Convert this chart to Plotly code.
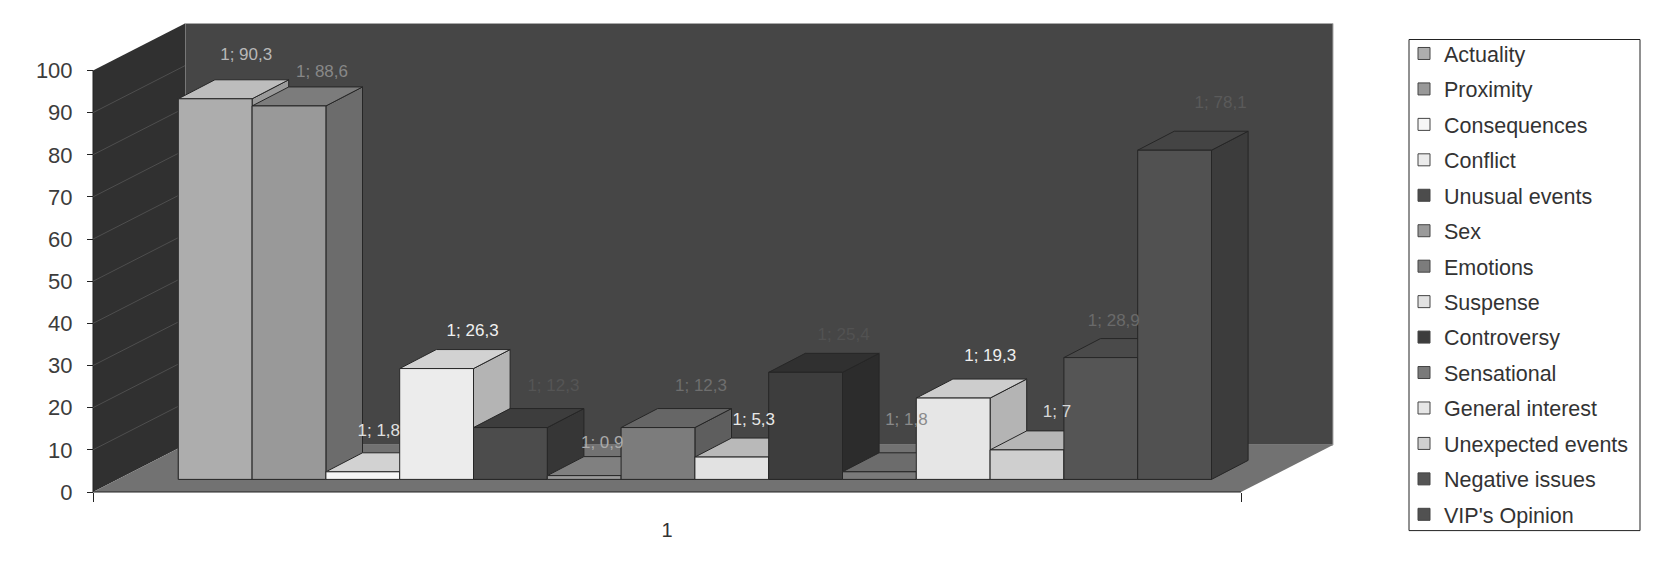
import plotly.graph_objects as go

# chart values
series_names = ["Actuality", "Proximity", "Consequences", "Conflict", "Unusual events", "Sex", "Emotions",
                "Suspense", "Controversy", "Sensational", "General interest", "Unexpected events",
                "Negative issues", "VIP's Opinion"]
series_values = [90.3, 88.6, 1.8, 26.3, 12.3, 0.9, 12.3, 5.3, 25.4, 1.8, 19.3, 7, 28.9, 78.1]
category_labels = ["1"]
y_ticks = [0, 10, 20, 30, 40, 50, 60, 70, 80, 90, 100]

# greys per series: front, top, side, label
front_colors = ["#adadad", "#999999", "#f6f6f6", "#ececec", "#4c4c4c", "#9a9a9a", "#7c7c7c",
                "#e2e2e2", "#3d3d3d", "#7a7a7a", "#e6e6e6", "#cfcfcf", "#555555", "#515151"]
top_colors = ["#bdbdbd", "#7c7c7c", "#d2d2d2", "#d2d2d2", "#3d3d3d", "#808080", "#666666",
              "#b9b9b9", "#303030", "#6c6c6c", "#cdcdcd", "#b6b6b6", "#4a4a4a", "#444444"]
side_colors = ["#9a9a9a", "#6c6c6c", "#b4b4b4", "#b4b4b4", "#363636", "#6e6e6e", "#5e5e5e",
               "#a8a8a8", "#2c2c2c", "#5e5e5e", "#b4b4b4", "#a4a4a4", "#3e3e3e", "#3c3c3c"]
label_colors = ["#b8b8b8", "#888888", "#e0e0e0", "#f0f0f0", "#555555", "#aaaaaa", "#6e6e6e",
                "#e8e8e8", "#525252", "#8a8a8a", "#f0f0f0", "#d8d8d8", "#6a6a6a", "#5a5a5a"]
# label offset from the bar's front top centre, in pixels
label_dx = [31, 33, 16, 36, 43, 18, 43, 22, 38, 27, 37, 30, 13, 46]
label_dy = [43, 33, 40, 37, 41, 32, 41, 36, 37, 51, 41, 37, 36, 46]

WIDTH, HEIGHT = 1674, 565
AXIS_LEFT, AXIS_RIGHT = 93, 1241   # pixels of the category axis
AXIS_ZERO, AXIS_TOP = 492, 70.5    # pixels of y=0 and y=100

px_x = AXIS_RIGHT - AXIS_LEFT
px_y = (AXIS_ZERO - AXIS_TOP) / 100

# 3d look, pixel sizes turned into axis units
wall_dx, wall_dy = 92 / px_x, 47 / px_y
bar_dx, bar_dy = 36.6 / px_x, 19 / px_y
lift_x, lift_y = 24.7 / px_x, 12.6 / px_y
bar_w = 73.8 / px_x
first_bar = (178.3 - AXIS_LEFT) / px_x

edge = "#262626"
fig = go.Figure()


def face(xs, ys, color):
    fig.add_trace(go.Scatter(x=xs + xs[:1], y=ys + ys[:1], mode="lines", fill="toself", fillcolor=color,
                             line={"color": edge, "width": 1}, showlegend=False, hoverinfo="skip"))


# real bars carry the legend, the polygons on top give the depth
for i, (name, value) in enumerate(zip(series_names, series_values)):
    fig.add_trace(go.Bar(x=[first_bar + (i + 0.5) * bar_w], y=[value], base=[lift_y], width=[bar_w], name=name,
                         legendgroup=name, marker={"color": front_colors[i], "line": {"color": "#444444", "width": 1}},
                         hoverinfo="skip"))

for i, value in enumerate(series_values):
    x0 = first_bar + i * bar_w
    x1 = x0 + bar_w
    y0 = lift_y
    y1 = lift_y + value
    face([x1, x1 + bar_dx, x1 + bar_dx, x1], [y0, y0 + bar_dy, y1 + bar_dy, y1], side_colors[i])
    face([x0, x1, x1 + bar_dx, x0 + bar_dx], [y1, y1, y1 + bar_dy, y1 + bar_dy], top_colors[i])
    face([x0, x1, x1, x0], [y0, y0, y1, y1], front_colors[i])

# labels go last, some of them run over the next bar
for i, value in enumerate(series_values):
    text = "1; " + str(value).replace(".", ",")
    fig.add_trace(go.Scatter(x=[first_bar + (i + 0.5) * bar_w + label_dx[i] / px_x],
                             y=[lift_y + value + label_dy[i] / px_y], mode="text",
                             text=[text], textposition="middle center",
                             textfont={"size": 17, "color": label_colors[i]}, showlegend=False, hoverinfo="skip"))

# walls and floor sit behind everything
shapes = [
    {"type": "path", "xref": "x", "yref": "y", "layer": "below", "fillcolor": "#464646",
     "line": {"color": "#a8a8a8", "width": 1},
     "path": f"M{wall_dx},{wall_dy} L{wall_dx},{100 + wall_dy} L{1 + wall_dx},{100 + wall_dy} L{1 + wall_dx},{wall_dy} Z"},
    {"type": "path", "xref": "x", "yref": "y", "layer": "below", "fillcolor": "#303030",
     "line": {"width": 0},
     "path": f"M0,0 L0,100 L{wall_dx},{100 + wall_dy} L{wall_dx},{wall_dy} Z"},
    {"type": "path", "xref": "x", "yref": "y", "layer": "below", "fillcolor": "#727272",
     "line": {"width": 0},
     "path": f"M0,0 L1,0 L{1 + wall_dx},{wall_dy} L{wall_dx},{wall_dy} Z"},
    {"type": "line", "xref": "x", "yref": "y", "layer": "below", "x0": 0, "x1": 1, "y0": 0, "y1": 0,
     "line": {"color": "#222222", "width": 1}},
    {"type": "line", "xref": "x", "yref": "y", "layer": "below", "x0": 0, "x1": 0, "y0": 0, "y1": 100,
     "line": {"color": "#222222", "width": 1}},
    # legend frame, its own border would sit too far from the first entry
    {"type": "rect", "xref": "paper", "yref": "paper", "layer": "below",
     "x0": 1409 / WIDTH, "x1": 1640 / WIDTH, "y0": 1 - 530.6 / HEIGHT, "y1": 1 - 39.5 / HEIGHT,
     "fillcolor": "white", "line": {"color": "#222222", "width": 1}},
]
for t in y_ticks[1:-1]:
    shapes.append({"type": "line", "xref": "x", "yref": "y", "layer": "below", "x0": 0, "x1": wall_dx,
                   "y0": t, "y1": t + wall_dy, "line": {"color": "#4e4e4e", "width": 1}})

fig.update_layout(
    width=WIDTH,
    height=HEIGHT,
    margin={"l": 0, "r": 0, "t": 0, "b": 0},
    paper_bgcolor="white",
    plot_bgcolor="white",
    barmode="overlay",
    shapes=shapes,
    font={"family": "Liberation Sans", "color": "#333333"},
    legend={"x": 1404 / WIDTH, "xanchor": "left", "y": 1 - 33 / HEIGHT, "yanchor": "top",
            "borderwidth": 0, "bgcolor": "rgba(0,0,0,0)", "font": {"size": 21.5, "color": "#333333"},
            "traceorder": "grouped", "tracegroupgap": 4.5, "entrywidth": 190, "entrywidthmode": "pixels"},
    xaxis={"range": [-AXIS_LEFT / px_x, (WIDTH - AXIS_LEFT) / px_x], "domain": [0, 1], "anchor": "free",
           "position": (HEIGHT - AXIS_ZERO) / HEIGHT, "showgrid": False, "zeroline": False, "showline": False,
           "tickmode": "array", "tickvals": [0.5], "ticktext": category_labels, "ticks": "",
           "ticklabelstandoff": 24, "tickfont": {"size": 20, "color": "#333333"},
           "minor": {"tickmode": "array", "tickvals": [0, 1], "ticks": "outside", "ticklen": 9,
                     "tickcolor": "#222222", "showgrid": False}},
    yaxis={"range": [-(HEIGHT - AXIS_ZERO) / px_y, AXIS_ZERO / px_y], "domain": [0, 1], "anchor": "free",
           "position": AXIS_LEFT / WIDTH, "showgrid": False, "zeroline": False, "showline": False,
           "tickmode": "array", "tickvals": y_ticks, "ticks": "outside", "ticklen": 6, "tickcolor": "#222222",
           "ticklabelstandoff": 10, "tickfont": {"size": 22, "color": "#3c3c3c"}},
)

fig.write_html("out.html", config={"displayModeBar": False}, post_script="document.body.style.margin='0';")
